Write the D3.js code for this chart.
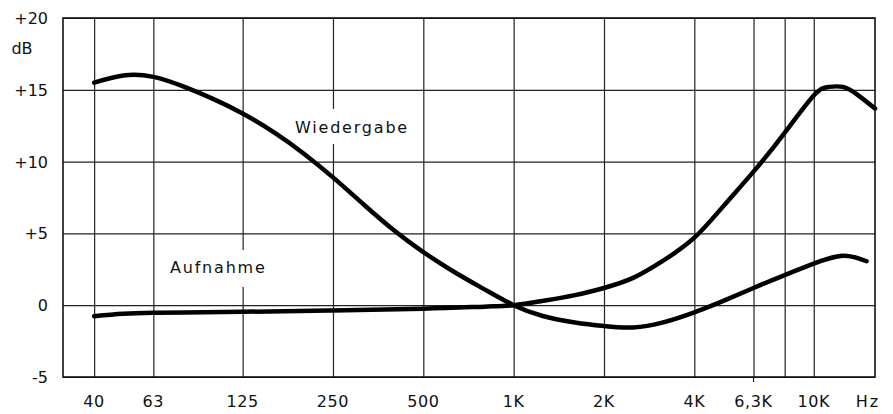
<!DOCTYPE html>
<html>
<head>
<meta charset="utf-8">
<script src="https://cdn.jsdelivr.net/npm/d3@7"></script>
<style>
  body { margin: 0; background: #fff; }
  text { font-family: "DejaVu Sans", sans-serif; fill: #111; }
</style>
</head>
<body>
<div id="chart"></div>
<script>
// grid / tick data
var gridFreqs = [40, 63, 125, 250, 500, 1000, 2000, 4000, 6300, 8000, 10000];
var freqLabels = ["40", "63", "125", "250", "500", "1K", "2K", "4K", "6,3K", "", "10K"];
var dbTicks = [-5, 0, 5, 10, 15, 20];
var dbLabels = ["-5", "0", "+5", "+10", "+15", "+20"];

// Wiedergabe (playback) curve
var wiederFreq = [40, 50, 63, 80, 100, 125, 160, 200, 250, 315, 400, 500, 630, 800, 1000,
                  1250, 1600, 2000, 2500, 3150, 4000, 5000, 6300, 8000, 10000, 12500, 15000];
var wiederDb = [15.5, 16.0, 15.9, 15.2, 14.35, 13.35, 12.0, 10.55, 8.9, 7.05, 5.2, 3.7, 2.35, 1.1, 0,
                -0.75, -1.2, -1.45, -1.55, -1.2, -0.5, 0.3, 1.2, 2.1, 2.9, 3.45, 3.06];

// Aufnahme (recording) curve
var aufFreq = [40, 50, 63, 80, 125, 250, 500, 800, 1000, 1250, 1600, 2000, 2500, 3150,
               4000, 5000, 6300, 8000, 10000, 11200, 12500, 14000, 16000];
var aufDb = [-0.77, -0.6, -0.53, -0.5, -0.46, -0.37, -0.25, -0.1, 0, 0.3, 0.7, 1.2, 1.9, 3.1,
             4.7, 6.9, 9.3, 12.0, 14.6, 15.2, 15.2, 14.65, 13.7];

function draw() {
    let width = 893, height = 414;
    let mLeft = 63, mRight = 875, mTop = 18, mBottom = 377;

    let svg = d3.select("#chart").append("svg")
        .attr("width", width)
        .attr("height", height);
    svg.append("rect").attr("width", width).attr("height", height).attr("fill", "#fff");

    let x = d3.scaleLog().domain([31.5, 16000]).range([mLeft, mRight]);
    let y = d3.scaleLinear().domain([-5, 20]).range([mBottom, mTop]);

    // vertical grid lines
    svg.append("g")
        .attr("transform", "translate(0," + mBottom + ")")
        .call(d3.axisBottom(x).tickValues(gridFreqs).tickSize(-(mBottom - mTop)).tickFormat(""))
        .call(g => g.select(".domain").remove())
        .call(g => g.selectAll("line").attr("stroke", "#222").attr("stroke-width", 1.2));

    // horizontal grid lines
    svg.append("g")
        .attr("transform", "translate(" + mLeft + ",0)")
        .call(d3.axisLeft(y).tickValues(dbTicks).tickSize(-(mRight - mLeft)).tickFormat(""))
        .call(g => g.select(".domain").remove())
        .call(g => g.selectAll("line").attr("stroke", "#222").attr("stroke-width", 1.2));

    // frame
    svg.append("rect")
        .attr("x", mLeft).attr("y", mTop)
        .attr("width", mRight - mLeft).attr("height", mBottom - mTop)
        .attr("fill", "none").attr("stroke", "#111").attr("stroke-width", 1.6);

    // small tick below 6,3K
    svg.append("line")
        .attr("x1", x(6300)).attr("x2", x(6300))
        .attr("y1", mBottom).attr("y2", mBottom + 5)
        .attr("stroke", "#222").attr("stroke-width", 1.2);

    // x labels
    svg.selectAll(".xlab")
        .data(gridFreqs)
        .enter().append("text")
        .attr("class", "xlab")
        .attr("x", d => x(d))
        .attr("y", 407)
        .attr("text-anchor", "middle")
        .style("font-size", "16px")
        .style("letter-spacing", "0.6px")
        .text((d, i) => freqLabels[i]);

    svg.append("text")
        .attr("x", 868).attr("y", 407)
        .attr("text-anchor", "middle")
        .style("font-size", "16px")
        .style("letter-spacing", "2px")
        .text("Hz");

    // y labels
    svg.selectAll(".ylab")
        .data(dbTicks)
        .enter().append("text")
        .attr("class", "ylab")
        .attr("x", 48)
        .attr("y", d => y(d) + 6)
        .attr("text-anchor", "end")
        .style("font-size", "16px")
        .text((d, i) => dbLabels[i]);

    svg.append("text")
        .attr("x", 22).attr("y", 54)
        .attr("text-anchor", "middle")
        .style("font-size", "16px")
        .text("dB");

    // curve labels with white backing
    let curveLabels = [
        { name: "Wiedergabe", x: 295, y: 133, bx: 289, by: 109, bw: 124, bh: 35 },
        { name: "Aufnahme", x: 170, y: 273, bx: 164, by: 250, bw: 110, bh: 37 }
    ];
    svg.selectAll(".labbg")
        .data(curveLabels)
        .enter().append("rect")
        .attr("x", d => d.bx).attr("y", d => d.by)
        .attr("width", d => d.bw).attr("height", d => d.bh)
        .attr("fill", "#fff");
    svg.selectAll(".curvelab")
        .data(curveLabels)
        .enter().append("text")
        .attr("x", d => d.x).attr("y", d => d.y)
        .style("font-size", "16px")
        .style("letter-spacing", "1.8px")
        .text(d => d.name);

    // curves
    let line = d3.line()
        .x(d => x(d[0]))
        .y(d => y(d[1]))
        .curve(d3.curveNatural);

    svg.append("path")
        .datum(d3.zip(wiederFreq, wiederDb))
        .attr("d", line)
        .attr("fill", "none")
        .attr("stroke", "#000")
        .attr("stroke-width", 4.5)
        .attr("stroke-linecap", "round");

    svg.append("path")
        .datum(d3.zip(aufFreq, aufDb))
        .attr("d", line)
        .attr("fill", "none")
        .attr("stroke", "#000")
        .attr("stroke-width", 4.5)
        .attr("stroke-linecap", "round");
}

draw();
</script>
</body>
</html>
